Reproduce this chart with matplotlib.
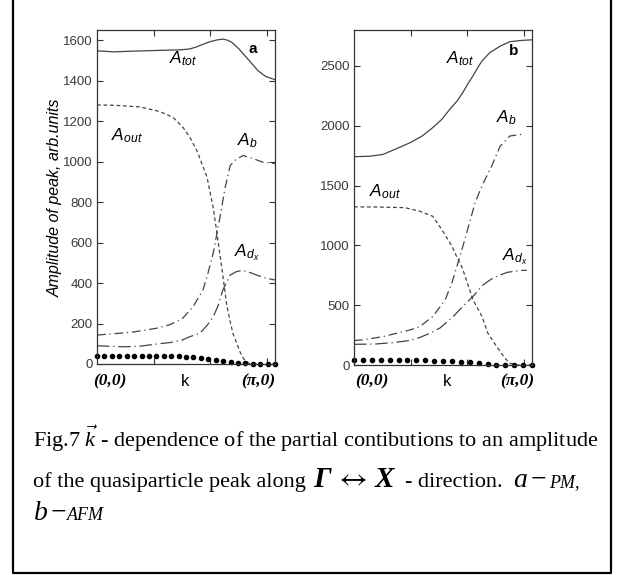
import numpy as np
import matplotlib
matplotlib.use("Agg")
import matplotlib.pyplot as plt
from matplotlib.lines import Line2D

plt.rcParams['font.family'] = ['Liberation Sans', 'DejaVu Sans']
plt.rcParams['mathtext.fontset'] = 'custom'
plt.rcParams['mathtext.rm'] = 'Liberation Serif'
plt.rcParams['mathtext.it'] = 'Liberation Serif:italic'
plt.rcParams['mathtext.bf'] = 'Liberation Serif:italic:bold'
plt.rcParams['mathtext.sf'] = 'Liberation Sans:italic'

# ---- panel a (PM) ----
a_tot_k = [0, 0.30, 0.58, 0.94, 1.20, 1.47, 1.63, 1.73, 1.86, 1.99, 2.12, 2.22, 2.30, 2.38, 2.50, 2.61, 2.73, 2.84, 2.98, 3.14]
a_tot = [1547, 1542, 1545, 1548, 1550, 1552, 1556, 1564, 1578, 1592, 1601, 1605, 1600, 1589, 1558, 1523, 1485, 1449, 1420, 1405]

a_out_k = [0, 0.32, 0.76, 1.11, 1.34, 1.52, 1.64, 1.77, 1.87, 1.94, 2.05, 2.12, 2.17, 2.22, 2.29, 2.35, 2.40, 2.47, 2.52, 2.59, 2.67, 2.74, 3.14]
a_out = [1280, 1278, 1270, 1247, 1219, 1168, 1120, 1050, 975, 925, 774, 640, 540, 440, 290, 210, 150, 100, 62, 25, 5, 0, 0]

a_b_k = [0, 0.32, 0.64, 1.06, 1.29, 1.50, 1.69, 1.87, 1.96, 2.05, 2.17, 2.26, 2.35, 2.45, 2.58, 2.75, 2.93, 3.14]
a_b = [143, 150, 158, 177, 195, 222, 281, 365, 450, 547, 724, 870, 980, 1010, 1030, 1015, 997, 990]

a_dx_k = [0, 0.46, 0.76, 1.06, 1.29, 1.50, 1.64, 1.82, 1.94, 2.05, 2.14, 2.22, 2.35, 2.45, 2.56, 2.70, 2.82, 2.97, 3.14]
a_dx = [90, 85, 88, 99, 106, 118, 135, 153, 190, 232, 290, 365, 439, 455, 463, 452, 439, 425, 415]

a_dots = [40, 40, 40, 40, 40, 40, 40, 39, 39, 39, 38, 38, 37, 34, 31, 26, 22, 17, 12, 7, 3, 1, 0, 0, 0]

# ---- panel b (AFM) ----
b_tot_k = [0, 0.28, 0.51, 0.76, 0.99, 1.20, 1.39, 1.55, 1.69, 1.82, 1.92, 2.01, 2.10, 2.19, 2.26, 2.40, 2.58, 2.75, 2.93, 3.14]
b_tot = [1741, 1745, 1760, 1810, 1858, 1913, 1984, 2053, 2137, 2207, 2277, 2350, 2417, 2490, 2542, 2612, 2665, 2702, 2712, 2718]

b_out_k = [0, 0.46, 0.90, 1.16, 1.39, 1.55, 1.73, 1.82, 1.91, 2.00, 2.10, 2.26, 2.36, 2.52, 2.66, 2.75, 2.84, 3.14]
b_out = [1322, 1320, 1315, 1285, 1243, 1132, 992, 897, 813, 687, 545, 405, 268, 153, 59, 15, 0, 0]

b_b_k = [0, 0.16, 0.51, 0.99, 1.16, 1.39, 1.61, 1.73, 1.87, 1.99, 2.14, 2.26, 2.43, 2.58, 2.75, 2.96]
b_b = [205, 210, 237, 293, 321, 405, 545, 690, 908, 1106, 1360, 1500, 1662, 1830, 1914, 1928]

b_dx_k = [0, 0.37, 0.69, 0.99, 1.16, 1.34, 1.52, 1.75, 1.92, 2.10, 2.28, 2.45, 2.70, 2.93, 3.05]
b_dx = [173, 175, 187, 205, 230, 265, 310, 405, 489, 573, 670, 727, 774, 790, 792]

b_dots = [42, 42, 42, 42, 42, 42, 42, 42, 38, 36, 36, 31, 26, 22, 16, 9, 3, 0, 0, 0, 0]

W, H = 632, 575
fig = plt.figure(figsize=(W / 100, H / 100), dpi=100)


def fx(x):
    return x / W


def fy(y):
    return 1 - y / H


def draw_panel(rect, ylim, yticks, tot, out, bb, dx, dots):
    ax = fig.add_axes(rect)
    gray = '#444444'
    ax.plot(tot[0], tot[1], color=gray, lw=0.9)
    ax.plot(out[0], out[1], color=gray, lw=0.9, dashes=(3, 2.2))
    ax.plot(bb[0], bb[1], color=gray, lw=0.9, dashes=(7, 3, 1, 3))
    ax.plot(dx[0], dx[1], color=gray, lw=0.9, dashes=(10, 3, 1, 3))
    kd = np.linspace(0, np.pi, len(dots))
    ax.plot(kd, dots, 'o', color='black', ms=3.0, clip_on=False)
    ax.set_xlim(0, np.pi)
    ax.set_ylim(*ylim)
    ax.set_xticks([1, 2, 3])
    ax.set_xticklabels([])
    ax.set_yticks(yticks)
    ax.tick_params(direction='in', length=4, width=0.8, top=True, right=True,
                   labelsize=9.5, labelcolor='#3a3a3a', color='#333333', pad=3)
    for s in ax.spines.values():
        s.set_color('#333333')
        s.set_linewidth(0.9)
    return ax


ax_a = draw_panel([fx(97), fy(364), fx(178), 334 / H], (0, 1650), range(0, 1601, 200),
                  (a_tot_k, a_tot), (a_out_k, a_out), (a_b_k, a_b), (a_dx_k, a_dx), a_dots)
ax_b = draw_panel([fx(354), fy(365), fx(178), 335 / H], (0, 2800), range(0, 2501, 500),
                  (b_tot_k, b_tot), (b_out_k, b_out), (b_b_k, b_b), (b_dx_k, b_dx), b_dots)

lab = dict(fontsize=12.5, ha='center', va='center')
ax_a.text(1.52, 1508, r'$\mathsf{A}_{\mathsf{tot}}$', **lab)
ax_a.text(0.53, 1129, r'$\mathsf{A}_{\mathsf{out}}$', **lab)
ax_a.text(2.65, 1104, r'$\mathsf{A}_{\mathsf{b}}$', **lab)
ax_a.text(2.65, 547, r'$\mathsf{A}_{\mathsf{d_x}}$', **lab)
ax_a.text(2.75, 1557, 'a', fontsize=11, fontweight='bold', ha='center', va='center')

ax_b.text(1.87, 2557, r'$\mathsf{A}_{\mathsf{tot}}$', **lab)
ax_b.text(0.55, 1450, r'$\mathsf{A}_{\mathsf{out}}$', **lab)
ax_b.text(2.70, 2070, r'$\mathsf{A}_{\mathsf{b}}$', **lab)
ax_b.text(2.84, 905, r'$\mathsf{A}_{\mathsf{d_x}}$', **lab)
ax_b.text(2.81, 2624, 'b', fontsize=11, fontweight='bold', ha='center', va='center')

fig.text(fx(55), fy(198), 'Amplitude of peak, arb.units', rotation=90, style='italic',
         fontsize=11.5, ha='center', va='center')

serif_bi = dict(family='Liberation Serif', style='italic', weight='bold', fontsize=12.5,
                ha='center', va='center')
for x0, xk, xp in [(110, 185, 258), (372, 447, 517)]:
    fig.text(fx(x0), fy(381), '(0,0)', **serif_bi)
    fig.text(fx(xk), fy(382), 'k', fontsize=12, ha='center', va='center')
    fig.text(fx(xp), fy(381), '(\u03c0,0)', **serif_bi)

# caption
cap = dict(family='Liberation Serif', fontsize=16, va='baseline', ha='left')
fig.text(fx(33), fy(447), r'Fig.7 $\vec{k}$ - dependence of the partial contibutions to an amplitude', **cap)
fig.text(fx(33), fy(487), 'of the quasiparticle peak along', **cap)
fig.text(fx(313), fy(487), r'$\mathbf{\Gamma}$', family='Liberation Serif', fontsize=21,
         va='baseline', ha='left')
fig.text(fx(335), fy(486), r'$\leftrightarrow$', math_fontfamily='stix', fontsize=21,
         va='baseline', ha='left')
fig.text(fx(374), fy(487), r'$\mathbf{X}$', family='Liberation Serif', fontsize=21,
         va='baseline', ha='left')
fig.text(fx(405), fy(487), '- direction.', **cap)
fig.text(fx(513), fy(487), r'$a-$', family='Liberation Serif', fontsize=20, va='baseline', ha='left')
fig.text(fx(549), fy(487), 'PM,', family='Liberation Serif', style='italic', fontsize=13,
         va='baseline', ha='left')
fig.text(fx(33), fy(520), r'$b-$', family='Liberation Serif', fontsize=20, va='baseline', ha='left')
fig.text(fx(67), fy(520), 'AFM', family='Liberation Serif', style='italic', fontsize=13,
         va='baseline', ha='left')

# frame around the figure
fig.add_artist(Line2D([fx(13), fx(13), fx(611), fx(611)], [fy(-5), fy(573), fy(573), fy(-5)],
                      color='black', lw=1.6, transform=fig.transFigure))

fig.savefig('out.png', dpi=100)
